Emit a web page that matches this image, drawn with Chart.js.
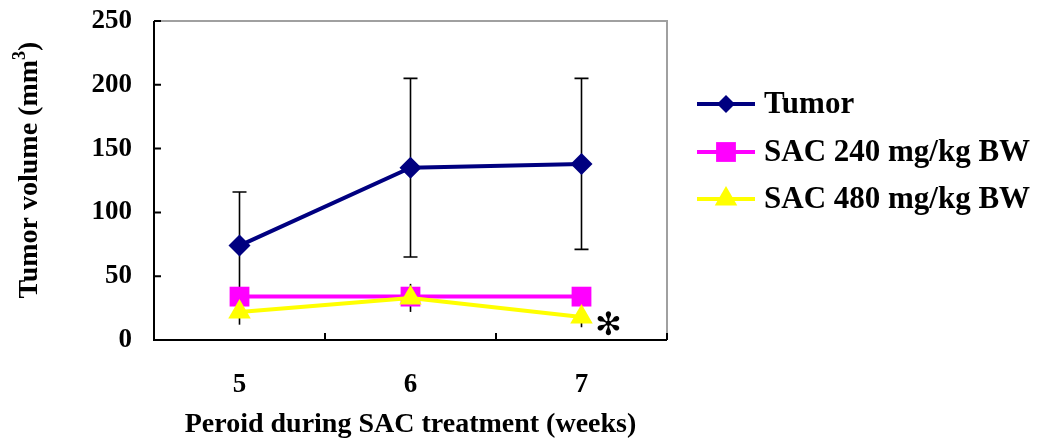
<!DOCTYPE html>
<html>
<head>
<meta charset="utf-8">
<script src="https://cdn.jsdelivr.net/npm/chart.js@4.4.0/dist/chart.umd.min.js"></script>
<style>
  html, body { margin: 0; padding: 0; background: #fff; }
  #wrap { width: 1042px; height: 447px; }
</style>
</head>
<body>
<div id="wrap"><canvas id="tumorChart" width="1042" height="447"></canvas></div>
<script>
// values
const weeks = ['5', '6', '7'];
const tumorMean = [74, 135, 138];
const tumorErr = [42, 70, 67];
const sac240Mean = [34, 34, 34];
const sac240Err = [5, 6, 5];
const sac480Mean = [22, 33, 18];
const sac480Err = [10, 11, 8];
const yTicks = [0, 50, 100, 150, 200, 250];

const serif = "'Liberation Serif', 'Times New Roman', serif";
Chart.defaults.font.family = serif;
Chart.defaults.font.weight = 'bold';
Chart.defaults.color = '#000';

// error bars, drawn under the lines
const errorBars = {
    id: 'errorBars',
    beforeDatasetsDraw(chart) {
        const ctx = chart.ctx;
        const y = chart.scales.y;
        ctx.save();
        ctx.strokeStyle = '#000';
        ctx.lineWidth = 1.6;
        chart.data.datasets.forEach((ds, i) => {
            const meta = chart.getDatasetMeta(i);
            meta.data.forEach((pt, j) => {
                const top = y.getPixelForValue(ds.data[j] + ds.errors[j]);
                const bot = y.getPixelForValue(ds.data[j] - ds.errors[j]);
                const c = ds.capWidth / 2;
                ctx.beginPath();
                ctx.moveTo(pt.x, top);
                ctx.lineTo(pt.x, bot);
                if (c > 0) {
                    ctx.moveTo(pt.x - c, top);
                    ctx.lineTo(pt.x + c, top);
                    ctx.moveTo(pt.x - c, bot);
                    ctx.lineTo(pt.x + c, bot);
                }
                ctx.stroke();
            });
        });
        ctx.restore();
    }
};

// frame, inward ticks, titles, legend, asterisk
const decorations = {
    id: 'decorations',
    afterDraw(chart) {
        const ctx = chart.ctx;
        const a = chart.chartArea;
        const x = chart.scales.x;
        const y = chart.scales.y;
        ctx.save();

        // grey top/right border
        ctx.strokeStyle = '#a0a0a0';
        ctx.lineWidth = 2;
        ctx.beginPath();
        ctx.moveTo(a.left, a.top);
        ctx.lineTo(a.right, a.top);
        ctx.lineTo(a.right, a.bottom);
        ctx.stroke();

        // black axes
        ctx.strokeStyle = '#000';
        ctx.beginPath();
        ctx.moveTo(a.left, a.top);
        ctx.lineTo(a.left, a.bottom);
        ctx.lineTo(a.right, a.bottom);
        ctx.stroke();

        // inward ticks
        ctx.beginPath();
        yTicks.forEach(v => {
            const py = y.getPixelForValue(v);
            ctx.moveTo(a.left, py);
            ctx.lineTo(a.left + 7, py);
        });
        const step = x.getPixelForValue(1) - x.getPixelForValue(0);
        for (let i = 0; i <= weeks.length; i++) {
            const px = x.getPixelForValue(0) - step / 2 + i * step;
            ctx.moveTo(px, a.bottom);
            ctx.lineTo(px, a.bottom - 7);
        }
        ctx.stroke();

        // x title
        ctx.fillStyle = '#000';
        ctx.font = 'bold 28px ' + serif;
        ctx.textAlign = 'center';
        ctx.textBaseline = 'middle';
        ctx.fillText('Peroid during SAC treatment (weeks)', (a.left + a.right) / 2, 425);

        // y title with superscript
        const main = 'Tumor volume (mm';
        const sup = '3';
        const close = ')';
        ctx.save();
        ctx.translate(28, 170);
        ctx.rotate(-Math.PI / 2);
        ctx.font = 'bold 28px ' + serif;
        const wMain = ctx.measureText(main).width;
        const wClose = ctx.measureText(close).width;
        ctx.font = 'bold 18px ' + serif;
        const wSup = ctx.measureText(sup).width;
        let sx = -(wMain + wSup + wClose) / 2;
        ctx.textAlign = 'left';
        ctx.textBaseline = 'alphabetic';
        ctx.font = 'bold 28px ' + serif;
        ctx.fillText(main, sx, 9);
        sx += wMain;
        ctx.font = 'bold 18px ' + serif;
        ctx.fillText(sup, sx, -3);
        sx += wSup;
        ctx.font = 'bold 28px ' + serif;
        ctx.fillText(close, sx, 9);
        ctx.restore();

        // legend
        const rows = [104, 152, 199];
        chart.data.datasets.forEach((ds, i) => {
            const ry = rows[i];
            ctx.strokeStyle = ds.borderColor;
            ctx.lineWidth = 4;
            ctx.beginPath();
            ctx.moveTo(697, ry);
            ctx.lineTo(755, ry);
            ctx.stroke();
            ctx.fillStyle = ds.pointBackgroundColor;
            ctx.strokeStyle = ds.pointBackgroundColor;
            Chart.helpers.drawPoint(ctx, {
                pointStyle: ds.pointStyle,
                radius: ds.legendRadius,
                rotation: 0,
                borderWidth: 0
            }, 726, ry);
            ctx.fillStyle = '#000';
            ctx.font = 'bold 31px ' + serif;
            ctx.textAlign = 'left';
            ctx.textBaseline = 'middle';
            ctx.fillText(ds.label, 764, ry + 1);
        });

        // significance mark next to the last SAC 480 point
        const p = chart.getDatasetMeta(2).data[2];
        ctx.font = 'bold 32px "DejaVu Sans"';
        ctx.textAlign = 'center';
        ctx.textBaseline = 'middle';
        ctx.fillStyle = '#000';
        ctx.fillText('\u273B', p.x + 27, p.y + 10);

        ctx.restore();
    }
};

const ctx = document.getElementById('tumorChart').getContext('2d');
const tumorChart = new Chart(ctx, {
    type: 'line',
    data: {
        labels: weeks,
        datasets: [{
            label: 'Tumor',
            data: tumorMean,
            errors: tumorErr,
            capWidth: 14,
            borderColor: '#000080',
            backgroundColor: '#000080',
            pointBackgroundColor: '#000080',
            pointStyle: 'rectRot',
            pointRadius: 11,
            legendRadius: 9,
            pointBorderWidth: 0,
            borderWidth: 4,
            order: 2
        }, {
            label: 'SAC 240 mg/kg BW',
            data: sac240Mean,
            errors: sac240Err,
            capWidth: 0,
            borderColor: '#ff00ff',
            backgroundColor: '#ff00ff',
            pointBackgroundColor: '#ff00ff',
            pointStyle: 'rect',
            pointRadius: 14,
            legendRadius: 14,
            pointBorderWidth: 0,
            borderWidth: 4,
            order: 3
        }, {
            label: 'SAC 480 mg/kg BW',
            data: sac480Mean,
            errors: sac480Err,
            capWidth: 0,
            borderColor: '#ffff00',
            backgroundColor: '#ffff00',
            pointBackgroundColor: '#ffff00',
            pointStyle: 'triangle',
            pointRadius: 13,
            legendRadius: 13,
            pointBorderWidth: 0,
            borderWidth: 4,
            order: 1
        }]
    },
    options: {
        responsive: false,
        animation: false,
        layout: { padding: { top: 21, right: 375, left: 0, bottom: 0 } },
        plugins: {
            legend: { display: false },
            tooltip: { enabled: false }
        },
        scales: {
            x: {
                offset: true,
                grid: { display: false },
                border: { display: false },
                ticks: { font: { size: 27, weight: 'bold' }, padding: 21 },
                afterFit(scale) {
                    scale.height = 107;
                    scale.paddingLeft = 0;
                    scale.paddingRight = 0;
                }
            },
            y: {
                min: 0,
                max: 250,
                grid: { display: false },
                border: { display: false },
                ticks: { font: { size: 27, weight: 'bold' }, padding: 14 },
                afterBuildTicks(scale) { scale.ticks = yTicks.map(v => ({ value: v })); },
                afterFit(scale) {
                    scale.width = 154;
                    scale.paddingTop = 0;
                    scale.paddingBottom = 0;
                }
            }
        }
    },
    plugins: [errorBars, decorations]
});
</script>
</body>
</html>
